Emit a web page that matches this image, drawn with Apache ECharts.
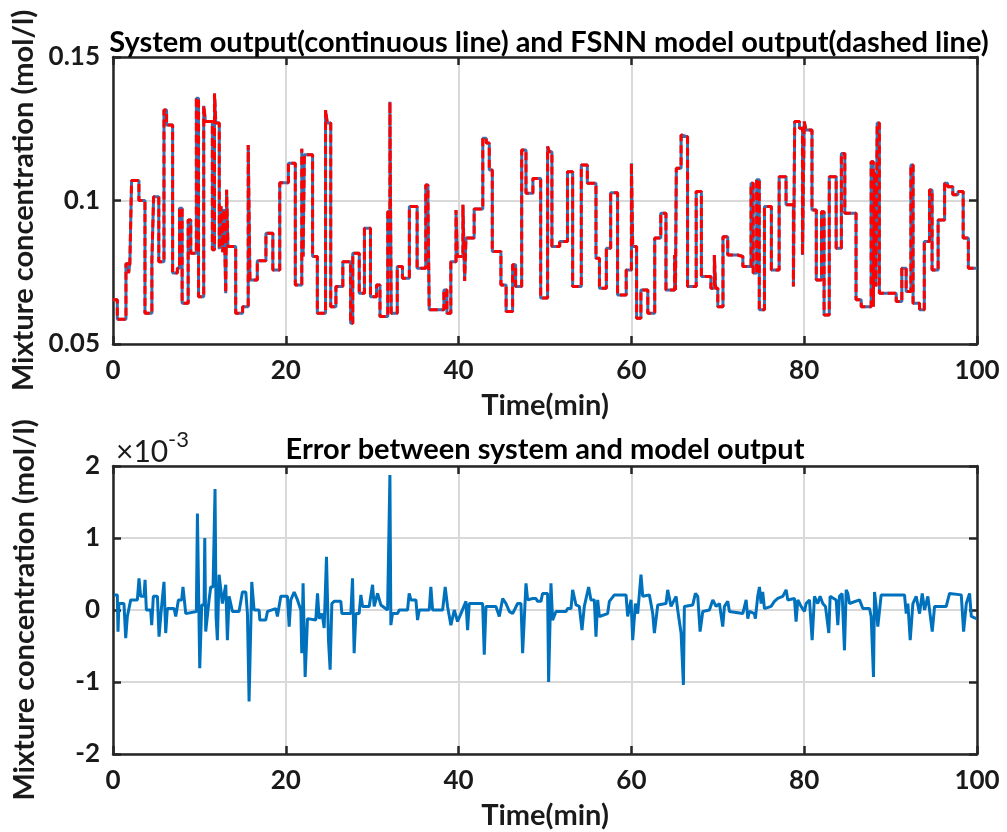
<!DOCTYPE html>
<html>
<head>
<meta charset="utf-8">
<script src="https://cdn.jsdelivr.net/npm/echarts@6/dist/echarts.min.js"></script>
<style>
  html, body { margin: 0; padding: 0; background: #fff; }
  #main { width: 1007px; height: 832px; }
</style>
</head>
<body>
<div id="main"></div>
<script>
// step start times (min) and held output levels (mol/l)
const stepTimes = [
  0, 0.5, 1.5, 1.8, 1.95, 2.15, 3.0, 3.7, 4.5, 4.7, 5.3, 5.9, 6.2, 6.9, 7.45, 7.7, 8.0, 8.7, 9.0, 9.65,
  9.9, 10.5, 10.7, 11.5, 11.75, 11.9, 12.3, 12.5, 12.7, 12.85, 13.05, 13.15, 13.3, 14.2, 15.0, 15.65, 15.85, 16.7, 17.7, 18.5,
  19.3, 20.3, 21.1, 21.85, 22.0, 22.15, 23.1, 23.65, 24.6, 24.8, 25.2, 25.8, 26.6, 27.5, 27.75, 28.5, 29.1, 29.8, 30.5, 30.9,
  31.8, 32.05, 32.2, 32.9, 33.5, 34.3, 35.2, 36.2, 36.45, 36.6, 38.3, 38.65, 39.1, 39.7, 39.85, 40.5, 40.7, 40.85, 41.8, 42.8,
  43.2, 43.55, 43.9, 44.9, 45.5, 46.25, 46.6, 47.3, 47.8, 48.6, 49.5, 50.3, 50.5, 50.8, 51.7, 52.6, 53.2, 54.2, 54.9, 55.9,
  56.3, 57.1, 57.6, 58.4, 59.4, 60.0, 60.15, 60.6, 61.1, 61.9, 62.7, 63.4, 64.0, 65.0, 65.1, 65.2, 65.75, 65.95, 66.5, 67.5,
  68.1, 69.2, 69.6, 69.75, 70.0, 70.6, 71.15, 72.3, 72.9, 73.85, 74.1, 74.5, 74.8, 75.4, 76.2, 77.1, 77.9, 78.75, 78.9, 79.45,
  79.8, 80.0, 80.2, 80.9, 81.4, 82.0, 82.3, 82.9, 83.7, 84.3, 84.7, 86.0, 86.6, 87.75, 88.0, 88.15, 88.3, 88.45, 88.7, 90.65,
  91.3, 91.8, 92.35, 92.6, 93.35, 93.9, 94.5, 94.8, 95.5, 96.25, 96.6, 97.2, 97.8, 98.4, 99.0, 100
];
const outputLevels = [
  0.0654, 0.0586, 0.078, 0.0747, 0.078, 0.107, 0.100, 0.0607, 0.079, 0.1013, 0.0787, 0.1315, 0.1263, 0.0747, 0.0764, 0.0973, 0.0642, 0.0932, 0.0816, 0.1356,
  0.0665, 0.133, 0.1275, 0.0828, 0.1373, 0.127, 0.083, 0.098, 0.082, 0.097, 0.0677, 0.1037, 0.084, 0.0607, 0.063, 0.1193, 0.0723, 0.079, 0.0886, 0.0758,
  0.1062, 0.113, 0.0706, 0.118, 0.0805, 0.1159, 0.0805, 0.0607, 0.1315, 0.127, 0.063, 0.070, 0.0787, 0.0572, 0.0816, 0.0677, 0.0903, 0.0665, 0.0706, 0.0596,
  0.0961, 0.1344, 0.0607, 0.077, 0.0729, 0.0979, 0.0764, 0.1054, 0.100, 0.0619, 0.0688, 0.0607, 0.0787, 0.0967, 0.0805, 0.0985, 0.072, 0.0869, 0.097, 0.1217,
  0.120, 0.1106, 0.0822, 0.0706, 0.0613, 0.0776, 0.070, 0.1176, 0.1025, 0.1077, 0.066, 0.1188, 0.117, 0.084, 0.0857, 0.110, 0.070, 0.1124, 0.106, 0.0799,
  0.0694, 0.0834, 0.1027, 0.0671, 0.0758, 0.113, 0.084, 0.059, 0.0688, 0.0607, 0.0869, 0.0956, 0.0688, 0.081, 0.0688, 0.1112, 0.1228, 0.1222, 0.070, 0.1031,
  0.0735, 0.0694, 0.081, 0.0694, 0.063, 0.0874, 0.081, 0.0805, 0.077, 0.106, 0.0747, 0.1072, 0.0619, 0.0979, 0.0758, 0.1083, 0.0985, 0.070, 0.1275, 0.1252,
  0.081, 0.1275, 0.1246, 0.0967, 0.0723, 0.0961, 0.0601, 0.1083, 0.0834, 0.1164, 0.0956, 0.0654, 0.063, 0.1135, 0.063, 0.110, 0.070, 0.127, 0.0677, 0.0648,
  0.0764, 0.0683, 0.1124, 0.0642, 0.0619, 0.0857, 0.1037, 0.0758, 0.0932, 0.106, 0.1048, 0.102, 0.1031, 0.0869, 0.0764, 0.0764
];

// error samples (min) and values (x10^-3 mol/l)
const errorTimes = [
  0.12, 0.5, 0.58, 0.69, 1.27, 1.47, 1.66, 2.05, 2.82, 3.01, 3.2, 3.59, 3.71, 3.86, 4.36, 4.48, 4.67, 5.14, 5.33, 5.6,
  5.9, 6.1, 6.29, 7.07, 7.26, 7.57, 7.95, 8.1, 8.42, 9.65, 9.77, 10.04, 10.27, 10.54, 10.62, 10.73, 11.12, 11.31, 11.58, 11.81,
  11.93, 12.08, 12.28, 12.66, 13.05, 13.24, 13.44, 13.82, 14.59, 14.98, 15.37, 15.56, 15.75, 16.06, 16.33, 16.91, 16.99, 17.68, 17.88, 18.84,
  19.03, 19.42, 20.19, 20.39, 20.58, 20.97, 21.35, 21.74, 21.85, 22.0, 22.24, 22.51, 23.47, 23.67, 23.86, 24.2, 24.44, 24.71, 24.94, 25.13,
  25.33, 25.6, 26.37, 26.49, 27.53, 27.72, 27.91, 28.11, 28.49, 28.69, 28.88, 29.65, 30.04, 30.23, 30.62, 30.81, 31.0, 31.78, 32.05, 32.16,
  32.35, 32.93, 33.13, 34.09, 34.28, 34.48, 35.06, 35.25, 35.44, 36.6, 36.79, 36.99, 38.15, 38.45, 38.72, 39.11, 39.5, 39.88, 40.27, 40.85,
  41.04, 41.23, 42.78, 42.97, 43.17, 44.32, 44.71, 45.1, 45.48, 45.87, 46.25, 46.83, 47.22, 47.41, 47.8, 47.99, 48.57, 48.95, 49.15, 49.53,
  49.72, 50.3, 50.42, 50.69, 50.88, 51.27, 52.43, 52.62, 53.01, 53.2, 53.59, 53.97, 54.28, 54.55, 55.05, 55.32, 55.71, 55.9, 56.1, 56.29,
  57.25, 57.45, 58.03, 59.38, 59.57, 59.96, 60.15, 60.46, 60.73, 61.11, 61.31, 62.08, 62.47, 62.66, 63.05, 64.01, 64.2, 64.59, 65.17, 65.36,
  65.75, 66.02, 66.13, 67.1, 67.41, 67.68, 67.95, 68.26, 69.03, 69.42, 69.8, 70.19, 70.57, 70.77, 71.15, 71.35, 72.89, 73.28, 73.47, 73.66,
  74.24, 74.35, 74.62, 74.82, 75.01, 75.2, 75.4, 76.17, 76.55, 76.94, 77.52, 77.91, 78.1, 78.87, 79.06, 79.26, 79.64, 80.03, 80.22, 80.61,
  80.92, 81.19, 81.57, 81.84, 82.15, 82.46, 82.85, 83.0, 83.7, 83.89, 84.08, 84.39, 84.66, 84.86, 85.05, 85.24, 86.4, 86.79, 87.56, 87.75,
  88.02, 88.14, 88.33, 88.52, 88.91, 91.61, 91.81, 92.0, 92.27, 92.58, 92.96, 93.35, 93.66, 93.93, 94.31, 94.82, 95.09, 96.44, 96.82, 98.18,
  98.45, 98.76, 99.14, 99.34, 99.92
];
const errorValues = [
  0.21, 0.21, -0.3, 0.09, 0.09, -0.39, -0.09, 0.14, 0.14, 0.44, 0.19, 0.19, 0.42, 0.0, 0.0, -0.21, 0.19, 0.19, -0.37, 0.02,
  0.39, -0.32, 0.02, 0.02, -0.09, 0.14, 0.14, 0.32, -0.05, -0.02, 1.34, -0.81, 0.07, 0.07, 1.0, -0.3, 0.14, 0.32, 0.32, 1.68,
  -0.09, -0.42, 0.49, 0.09, 0.35, -0.42, 0.19, -0.02, -0.02, 0.25, 0.25, -0.05, -1.27, 0.39, 0.0, 0.0, -0.14, -0.14, -0.02, 0.02,
  -0.09, 0.19, 0.19, -0.23, 0.14, 0.25, 0.14, 0.0, -0.6, 0.37, -0.93, -0.12, -0.14, 0.23, -0.12, -0.05, -0.25, 0.74, -0.42, -0.83,
  0.09, 0.12, 0.12, -0.05, -0.05, 0.44, -0.6, -0.05, -0.05, 0.21, 0.05, 0.05, 0.35, 0.05, 0.23, 0.23, 0.07, 0.0, 1.875, -0.21,
  -0.05, -0.05, 0.0, 0.0, 0.23, 0.14, 0.14, -0.14, 0.0, 0.0, 0.32, 0.0, 0.0, 0.32, 0.05, -0.21, 0.0, -0.16, -0.05, 0.12,
  -0.28, 0.09, 0.09, -0.62, 0.05, 0.05, -0.09, 0.16, 0.09, -0.02, -0.05, 0.09, 0.09, -0.6, 0.37, 0.14, 0.16, 0.16, 0.12, 0.12,
  0.23, 0.23, -1.0, 0.37, -0.14, -0.02, -0.02, 0.02, 0.02, 0.28, 0.07, 0.05, -0.28, 0.05, 0.32, 0.14, 0.14, -0.37, 0.14, -0.09,
  -0.05, 0.12, 0.21, 0.21, -0.09, 0.14, -0.42, 0.09, -0.05, 0.49, 0.19, 0.21, -0.05, -0.32, 0.07, 0.09, 0.28, 0.05, 0.19, 0.0,
  -0.32, -1.04, 0.05, 0.07, 0.23, 0.19, -0.3, -0.02, 0.0, 0.14, 0.05, 0.09, -0.23, 0.05, 0.12, -0.02, -0.05, 0.14, -0.12, -0.02,
  -0.05, -0.12, 0.19, 0.32, 0.09, 0.25, 0.02, 0.05, 0.12, 0.16, 0.19, 0.28, 0.14, 0.16, -0.16, 0.14, 0.05, -0.02, 0.09, 0.14,
  -0.42, 0.19, 0.09, 0.19, 0.09, 0.05, -0.32, 0.19, 0.14, -0.21, 0.19, 0.23, -0.56, 0.28, 0.23, 0.09, 0.14, 0.02, 0.02, -0.09,
  -0.93, 0.25, 0.05, -0.23, 0.21, 0.21, -0.05, 0.09, -0.42, 0.09, 0.19, -0.05, 0.23, 0.0, 0.19, -0.3, 0.05, 0.05, 0.23, 0.21,
  -0.3, 0.09, 0.23, -0.09, -0.12
];

const outputTicks = { min: 0.05, max: 0.15, interval: 0.05 };
const errorTicks = { min: -2, max: 2, interval: 1 };
const timeTicks = { min: 0, max: 100, interval: 20 };

const FONT = "Lato";
const INK = "#262626";
const GRID_GRAY = "#d9d9d9";

const outputData = stepTimes.map((t, i) => [t, outputLevels[i]]);
const errorData = errorTimes.map((t, i) => [t, errorValues[i]]);

const labelStyle = { color: "#1a1a1a", fontSize: 26, fontWeight: "bold", fontFamily: FONT };
const nameStyle = { color: "#1a1a1a", fontSize: 29, fontWeight: "bold", fontFamily: FONT };
const tickStyle = { inside: true, length: 8, lineStyle: { color: INK, width: 2.5 } };
const frameLine = { show: true, onZero: false, lineStyle: { color: INK, width: 2.5 } };

function xAxisPair(gridIndex) {
  return [
    {
      type: "value", gridIndex, ...timeTicks, position: "bottom",
      axisLine: frameLine, axisTick: tickStyle,
      axisLabel: { ...labelStyle, margin: 14 },
      splitLine: { show: true, lineStyle: { color: GRID_GRAY, width: 2 } },
      name: "Time(min)", nameLocation: "middle", nameGap: 47,
      nameTextStyle: nameStyle
    },
    {
      type: "value", gridIndex, ...timeTicks, position: "top",
      axisLine: frameLine, axisTick: tickStyle,
      axisLabel: { show: false }, splitLine: { show: false }
    }
  ];
}

function yAxisPair(gridIndex, ticks) {
  return [
    {
      type: "value", gridIndex, ...ticks, position: "left",
      axisLine: frameLine, axisTick: tickStyle,
      axisLabel: { ...labelStyle, margin: 13 },
      splitLine: { show: true, lineStyle: { color: GRID_GRAY, width: 2 } },
      name: "Mixture concentration (mol/l)", nameLocation: "middle", nameGap: 74, nameRotate: 90,
      nameTextStyle: nameStyle
    },
    {
      type: "value", gridIndex, ...ticks, position: "right",
      axisLine: frameLine, axisTick: tickStyle,
      axisLabel: { show: false }, splitLine: { show: false }
    }
  ];
}

const option = {
  animation: false,
  backgroundColor: "#fff",
  grid: [
    { left: 113, right: 30, top: 57, height: 287 },
    { left: 113, right: 30, top: 466, height: 288 }
  ],
  xAxis: [...xAxisPair(0), ...xAxisPair(1)],
  yAxis: [...yAxisPair(0, outputTicks), ...yAxisPair(1, errorTicks)],
  graphic: [
    {
      type: "text", x: 549, y: 43, z: 10,
      style: { text: "System output(continuous line) and FSNN model output(dashed line)", fill: "#000",
        font: "bold 29px " + FONT, textAlign: "center", textVerticalAlign: "middle" }
    },
    {
      type: "text", x: 545, y: 450, z: 10,
      style: { text: "Error between system and model output", fill: "#000",
        font: "bold 29px " + FONT, textAlign: "center", textVerticalAlign: "middle" }
    },
    {
      type: "text", x: 116, y: 452,
      style: { text: "\u00d710", fill: "#1a1a1a", font: "30px " + FONT, textVerticalAlign: "middle" }
    },
    {
      type: "text", x: 168, y: 440,
      style: { text: "-3", fill: "#1a1a1a", font: "22px " + FONT, textVerticalAlign: "middle" }
    }
  ],
  series: [
    {
      name: "System output", type: "line", xAxisIndex: 0, yAxisIndex: 0,
      data: outputData, step: "end", showSymbol: false,
      lineStyle: { color: "#3d6fae", width: 3 }
    },
    {
      name: "FSNN model output", type: "line", xAxisIndex: 0, yAxisIndex: 0,
      data: outputData, step: "end", showSymbol: false,
      lineStyle: { color: "#ff0000", width: 3, type: [8, 4] }
    },
    {
      name: "Error", type: "line", xAxisIndex: 2, yAxisIndex: 2,
      data: errorData, showSymbol: false,
      lineStyle: { color: "#0072bd", width: 3 }
    }
  ]
};

const myChart = echarts.init(document.getElementById("main"));
myChart.setOption(option);
</script>
</body>
</html>
